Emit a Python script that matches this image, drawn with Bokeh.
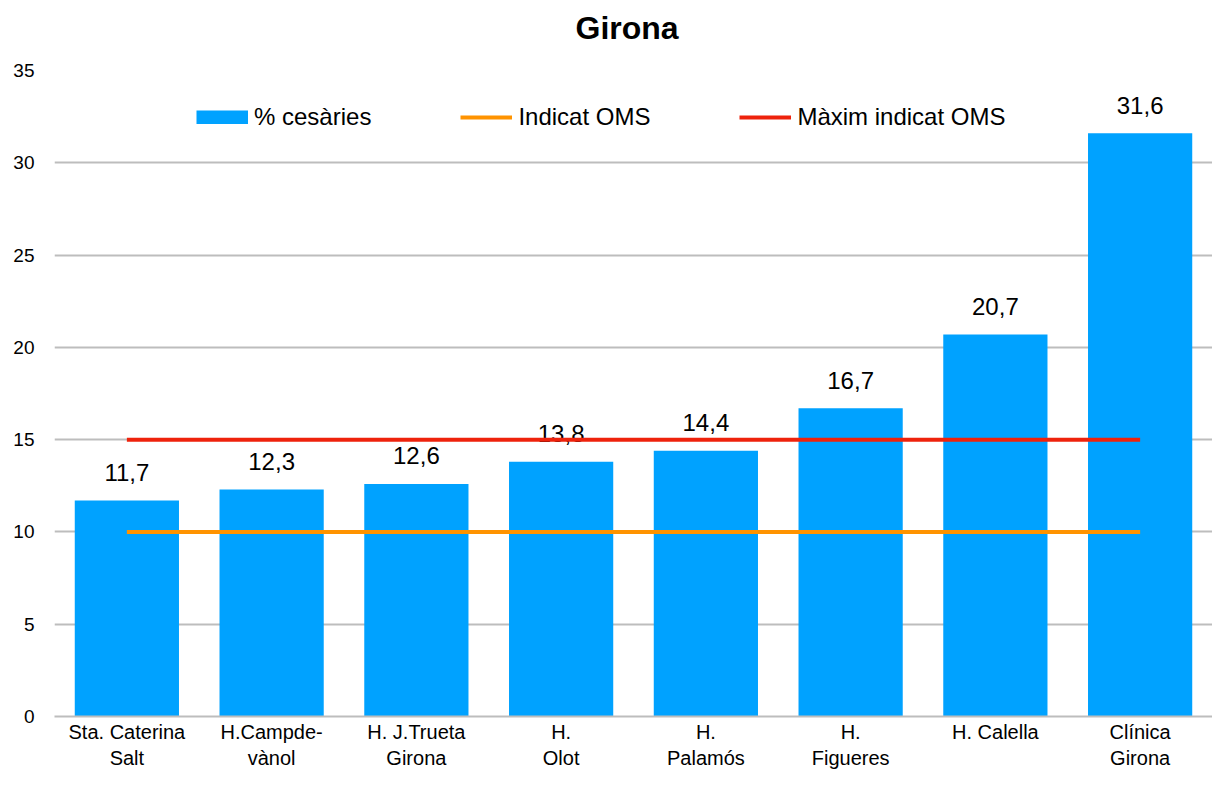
from bokeh.plotting import figure
from bokeh.models import ColumnDataSource, FixedTicker, Legend, LegendItem, Range1d, Title
from bokeh.core.properties import value
from bokeh.embed import file_html
from bokeh.resources import INLINE

hospitals = ["Sta. Caterina\nSalt", "H.Campde-\nvànol", "H. J.Trueta\nGirona", "H.\nOlot",
             "H.\nPalamós", "H.\nFigueres", "H. Calella", "Clínica\nGirona"]
cesaries = [11.7, 12.3, 12.6, 13.8, 14.4, 16.7, 20.7, 31.6]
labels = ["11,7", "12,3", "12,6", "13,8", "14,4", "16,7", "20,7", "31,6"]
indicat_oms = 10
maxim_oms = 15
y_ticks = [0, 5, 10, 15, 20, 25, 30, 35]
title_text = "Girona"

FONT = "Liberation Sans"
BAR_COLOR = "#00A2FF"
xs = list(range(1, len(hospitals) + 1))

p = figure(width=1212, height=771, output_backend="svg", toolbar_location=None,
           x_range=Range1d(0.5, len(hospitals) + 0.5), y_range=Range1d(0, 35),
           min_border_left=54, min_border_right=0, min_border_top=70, min_border_bottom=0)
p.outline_line_color = None
p.background_fill_color = "white"
p.border_fill_color = "white"

p.title.text = title_text
p.title.text_font = FONT
p.title.text_font_size = "32px"
p.title.text_font_style = "bold"
p.title.align = "left"
p.title.offset = 521
p.title.standoff = 15
p.title.text_color = "black"
# small spacer panel between the title and the plot area
p.add_layout(Title(text=" ", text_font_size="1px", standoff=14), "above")

src = ColumnDataSource(dict(x=xs, y=cesaries, lab=labels))
bars = p.vbar(x="x", top="y", width=0.72, source=src, color=BAR_COLOR, line_color=None)
p.text(x="x", y="y", text="lab", source=src, text_align="center", text_baseline="alphabetic",
       y_offset=-28, text_font=value(FONT), text_font_size="24px", text_color="black")

l1 = p.line(x=[xs[0], xs[-1]], y=[indicat_oms, indicat_oms], line_color="#FF9300", line_width=4)
l2 = p.line(x=[xs[0], xs[-1]], y=[maxim_oms, maxim_oms], line_color="#EE220C", line_width=4)
# legend swatch for the bars: a single-point line, which draws nothing on the plot
swatch = p.line(x=xs[:1], y=cesaries[:1], line_color=BAR_COLOR, line_width=14)

# axes
p.xaxis.ticker = FixedTicker(ticks=xs)
p.xaxis.major_label_overrides = {x: h for x, h in zip(xs, hospitals)}
p.xaxis.major_label_text_font = FONT
p.xaxis.major_label_text_font_size = "20px"
p.xaxis.major_label_text_color = "black"
p.xaxis.major_label_text_line_height = 1.2
p.xaxis.major_tick_line_color = None
p.xaxis.major_tick_out = 0
p.xaxis.major_tick_in = 0
p.xaxis.minor_tick_line_color = None
p.xaxis.axis_line_color = "#BDBDBD"
p.xaxis.axis_line_width = 2
p.xaxis.major_label_standoff = 4

p.yaxis.ticker = FixedTicker(ticks=y_ticks)
p.yaxis.major_label_text_font = FONT
p.yaxis.major_label_text_font_size = "19px"
p.yaxis.major_label_text_color = "black"
p.yaxis.major_tick_line_color = None
p.yaxis.major_tick_out = 0
p.yaxis.major_tick_in = 0
p.yaxis.minor_tick_line_color = None
p.yaxis.axis_line_color = None
p.yaxis.major_label_standoff = 20

p.xgrid.grid_line_color = None
p.ygrid.ticker = FixedTicker(ticks=y_ticks)
p.ygrid.grid_line_color = "#BDBDBD"
p.ygrid.grid_line_width = 2

legend = Legend(items=[LegendItem(label="% cesàries", renderers=[swatch]),
                       LegendItem(label="Indicat OMS", renderers=[l1]),
                       LegendItem(label="Màxim indicat OMS", renderers=[l2])],
                orientation="horizontal", location=(142, 585),
                padding=0, margin=0, spacing=89, glyph_width=52, glyph_height=14,
                label_standoff=6, label_height=24, label_text_font=FONT,
                label_text_font_size="24px", label_text_color="black",
                border_line_color=None, background_fill_alpha=0)
p.add_layout(legend, "center")

open("out.html", "w").write(file_html(p, INLINE))
